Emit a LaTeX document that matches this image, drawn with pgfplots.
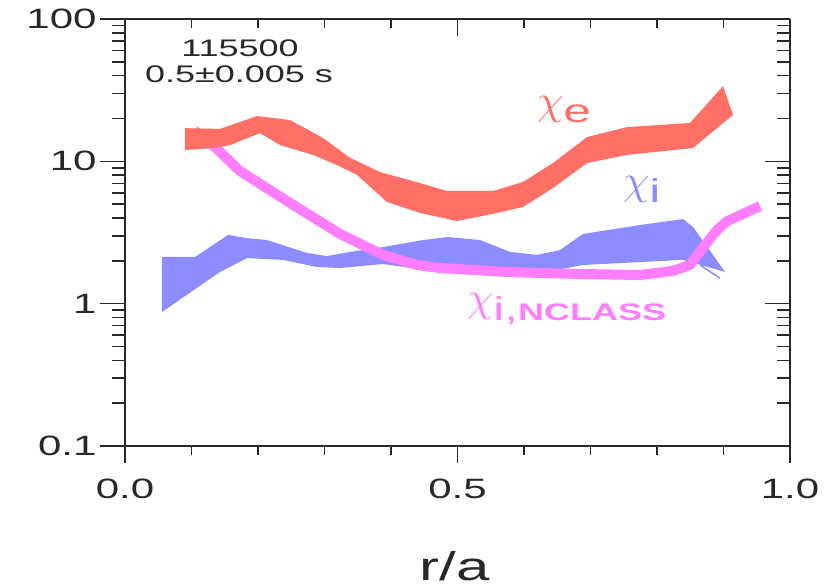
\documentclass[border=0pt]{standalone}
\usepackage{pgfplots}
\pgfplotsset{compat=1.18}
\usepackage{fontspec}
\setmainfont{Liberation Sans}[FakeStretch=1.5]
\definecolor{chie}{RGB}{255,111,102}
\definecolor{chii}{RGB}{140,140,255}
\definecolor{chin}{RGB}{255,125,255}
\definecolor{axc}{RGB}{40,40,40}
\newcommand{\chisym}{\raisebox{8.5pt}{\scalebox{4.2}{$\chi$}}}
\begin{document}
\begin{tikzpicture}
\path[use as bounding box] (0,0) rectangle (834pt,587pt);
% bottom axis with the data
\begin{axis}[at={(125pt,141pt)}, anchor=south west,
  width=665pt, height=427pt, scale only axis,
  xmin=0, xmax=1, ymode=log, ymin=0.1, ymax=100,
  axis line style={line width=1.5pt, color=axc},
  tick style={line width=1.5pt, color=axc},
  clip=false,
  axis x line*=bottom, axis y line=none, tick align=outside,
  major tick length=17pt, minor tick length=9pt,
  xtick={0,0.5,1}, xticklabels={0.0,0.5,1.0},
  minor xtick={0.1,0.2,0.3,0.4,0.6,0.7,0.8,0.9},
  ytick=\empty,
  xticklabel style={font=\fontsize{28}{30}\selectfont, text=axc, yshift=-12pt}]
% chi_i band
\addplot[fill=chii, draw=none] coordinates {
(0.0556,2.13) (0.1053,2.13) (0.1549,3.04) (0.1835,2.89) (0.2135,2.80)
(0.2737,2.27) (0.3038,2.16) (0.3383,2.31) (0.3880,2.50) (0.4481,2.80)
(0.4857,2.94) (0.5338,2.80) (0.5789,2.31) (0.6195,2.20) (0.6541,2.38)
(0.6887,3.09) (0.7744,3.57) (0.8391,3.93) (0.8541,3.46) (0.9023,1.67)
(0.8391,2.03) (0.6887,1.87) (0.6241,1.64) (0.5639,1.59) (0.4737,1.67)
(0.3880,1.90) (0.3233,1.78) (0.2887,1.81) (0.2376,2.03) (0.1835,2.09)
(0.1429,1.67) (0.0556,0.874)};
\addplot[chii, line width=1.5pt] coordinates {(0.8647,1.87) (0.8947,1.51)};
% chi_i NCLASS
\addplot[chin, line width=10pt, line join=round] coordinates {
(0.1040,16.5) (0.1353,12.6) (0.1729,8.55) (0.2481,5.10) (0.3233,3.09)
(0.3880,2.20) (0.4391,1.87) (0.4737,1.78) (0.5744,1.67) (0.6737,1.62)
(0.7744,1.59) (0.8241,1.70) (0.8496,1.87) (0.8722,2.58) (0.8902,3.29)
(0.9053,3.79) (0.9549,4.86)};
% chi_e band
\addplot[fill=chie, draw=none] coordinates {
(0.0902,17.1) (0.1429,16.9) (0.1985,20.8) (0.2481,19.5) (0.2977,14.6)
(0.3383,10.6) (0.3835,8.41) (0.4436,7.04) (0.4842,6.19) (0.5534,6.19)
(0.5985,7.16) (0.6436,9.73) (0.6947,14.8) (0.7549,17.4) (0.8496,18.6)
(0.8992,33.8) (0.9143,21.2)
(0.8541,12.4) (0.7549,11.1) (0.6947,9.73) (0.6436,6.49) (0.5985,4.78)
(0.5594,4.34) (0.4992,3.81) (0.4436,4.34) (0.3940,5.18) (0.3489,8.02)
(0.3188,9.42) (0.2827,11.1) (0.2331,13.0) (0.2030,15.8) (0.1579,13.0)
(0.1323,12.4) (0.0902,12.0)};
\end{axis}
% left axis
\begin{axis}[at={(125pt,141pt)}, anchor=south west,
  width=665pt, height=427pt, scale only axis,
  xmin=0, xmax=1, ymode=log, ymin=0.1, ymax=100,
  axis line style={line width=1.5pt, color=axc},
  tick style={line width=1.5pt, color=axc},
  axis y line*=left, axis x line=none, tick align=outside,
  major tick length=25pt, minor tick length=13pt,
  xtick=\empty,
  ytick={0.1,1,10,100}, yticklabels={0.1,1,10,100},
  yticklabel style={font=\fontsize{28}{30}\selectfont, text=axc}]
\end{axis}
% top axis
\begin{axis}[at={(125pt,141pt)}, anchor=south west,
  width=665pt, height=427pt, scale only axis,
  xmin=0, xmax=1, ymode=log, ymin=0.1, ymax=100,
  axis line style={line width=1.5pt, color=axc},
  tick style={line width=1.5pt, color=axc},
  axis x line*=top, axis y line=none, tick align=inside,
  major tick length=17pt, minor tick length=9pt,
  ytick=\empty,
  xtick={0,0.5,1}, xticklabels={},
  minor xtick={0.1,0.2,0.3,0.4,0.6,0.7,0.8,0.9}]
\end{axis}
% right axis
\begin{axis}[at={(125pt,141pt)}, anchor=south west,
  width=665pt, height=427pt, scale only axis,
  xmin=0, xmax=1, ymode=log, ymin=0.1, ymax=100,
  axis line style={line width=1.5pt, color=axc},
  tick style={line width=1.5pt, color=axc},
  axis y line*=right, axis x line=none, tick align=inside,
  major tick length=25pt, minor tick length=13pt,
  xtick=\empty,
  ytick={0.1,1,10,100}, yticklabels={}]
\end{axis}
\node[anchor=base, inner sep=0, text=axc] at (240pt,530pt) {\fontsize{24}{26}\selectfont 115500};
\node[anchor=base, inner sep=0, text=axc] at (239pt,504pt) {\fontsize{24}{26}\selectfont 0.5±0.005 s};
\node[anchor=base west, inner sep=0, text=chie] at (537pt,464pt) {\chisym\fontsize{33}{36}\selectfont e};
\node[anchor=base west, inner sep=0, text=chii] at (623pt,384pt) {\chisym\fontsize{33}{36}\selectfont i};
\node[anchor=base west, inner sep=0, text=chin] at (467pt,267pt) {\chisym\fontsize{33}{36}\selectfont i,\fontsize{24}{26}\selectfont\bfseries NCLASS};
\node[anchor=base, inner sep=0, text=axc] at (455pt,7pt) {\fontsize{40}{44}\selectfont r/a};
\end{tikzpicture}
\end{document}
